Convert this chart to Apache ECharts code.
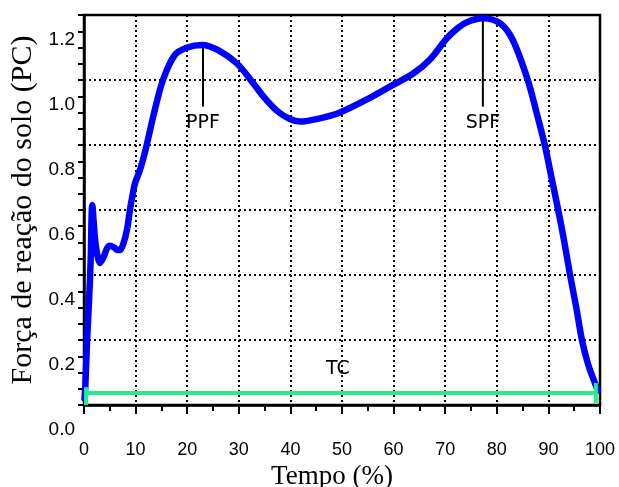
<!DOCTYPE html>
<html>
<head>
<meta charset="utf-8">
<script src="https://cdn.jsdelivr.net/npm/echarts@6/dist/echarts.min.js"></script>
<style>
html,body{margin:0;padding:0;background:#fff;}
#chart{width:619px;height:487px;}
</style>
</head>
<body>
<div id="chart"></div>
<script>
// Curve: Tempo (%) vs Força de reação do solo (PC)
const tempo = [0.1, 0.25, 0.6, 1.0, 1.3, 1.6, 2.1, 2.6, 3.1, 3.8, 4.4, 5.0, 5.8, 6.4, 7.0, 7.7, 8.4, 8.9, 9.4, 9.9, 10.85, 12.0, 13.6, 15.3, 17.6, 20.0, 22.9, 26.0, 29.7, 32.8, 35.0, 37.4, 39.9, 41.9, 45.7, 49.6, 55.4, 59.9, 63.8, 67.1, 70.3, 72.3, 74.2, 77.3, 80.6, 83.1, 86.0, 87.7, 89.3, 90.6, 91.9, 93.1, 94.2, 95.4, 96.5, 97.7, 99.0, 99.6];
const forca = [0.02, 0.055, 0.2, 0.33, 0.45, 0.615, 0.517, 0.46, 0.437, 0.455, 0.48, 0.49, 0.485, 0.478, 0.477, 0.50, 0.545, 0.60, 0.645, 0.683, 0.723, 0.79, 0.90, 1.0, 1.077, 1.10, 1.108, 1.092, 1.05, 0.99, 0.945, 0.905, 0.88, 0.872, 0.882, 0.90, 0.945, 0.985, 1.02, 1.064, 1.128, 1.158, 1.178, 1.19, 1.175, 1.123, 1.0, 0.9, 0.8, 0.7, 0.6, 0.5, 0.4, 0.3, 0.2, 0.125, 0.068, 0.045];

// TC (tempo de contato) bar
const tcX = [0.4, 99.2];
const tcY = 0.037;
const tcCapLeft = [0.0, 0.055];
const tcCapRight = [0.006, 0.068];

// Peak markers
const markerNames = ['PPF', 'SPF'];
const markerX = [23.06, 77.3];
const markerTop = [1.108, 1.19];
const markerBottom = [0.918, 0.918];
const labelY = [0.866, 0.869];
const tcLabel = {name: 'TC', x: 49.2, y: 0.11};

// Axis ticks
const xTicks = {min: 0, max: 100, interval: 10};
const yTicks = {min: 0, max: 1.2, interval: 0.2};

const curve = tempo.map((t, i) => [t, forca[i]]);

const series = [];
markerNames.forEach((n, i) => {
  series.push({
    type: 'line', name: n + '-line', silent: true, symbol: 'none', z: 2,
    data: [[markerX[i], markerTop[i]], [markerX[i], markerBottom[i]]],
    lineStyle: {color: '#000', width: 2}
  });
});
series.push({
  type: 'line', name: 'forca', data: curve, symbol: 'none', smooth: 0.3, z: 3,
  lineStyle: {color: '#0000FF', width: 6.5, cap: 'round', join: 'round'}
});
series.push({
  type: 'line', name: 'TC', symbol: 'none', z: 4,
  data: [[tcX[0], tcY], [tcX[1], tcY]],
  lineStyle: {color: '#22EE88', width: 4}
});
series.push({
  type: 'line', name: 'TC-cap-l', symbol: 'none', z: 4,
  data: [[tcX[0], tcCapLeft[0]], [tcX[0], tcCapLeft[1]]],
  lineStyle: {color: '#22EE88', width: 4}
});
series.push({
  type: 'line', name: 'TC-cap-r', symbol: 'none', z: 4,
  data: [[tcX[1], tcCapRight[0]], [tcX[1], tcCapRight[1]]],
  lineStyle: {color: '#22EE88', width: 4}
});
const labels = markerNames.map((n, i) => [markerX[i], labelY[i], n]);
labels.push([tcLabel.x, tcLabel.y, tcLabel.name]);
series.push({
  type: 'scatter', symbol: 'circle', symbolSize: 1, z: 6,
  itemStyle: {color: '#fff', opacity: 1},
  data: labels,
  label: {
    show: true, position: 'inside', formatter: p => p.data[2],
    fontFamily: 'DejaVu Sans', fontSize: 19, color: '#000',
    textBorderWidth: 0, opacity: 1
  }
});

const chart = echarts.init(document.getElementById('chart'), null, {renderer: 'canvas'});
chart.setOption({
  animation: false,
  backgroundColor: '#fff',
  grid: {left: 84, right: 19, top: 15, bottom: 82, show: true, borderColor: '#000', borderWidth: 2.5, backgroundColor: 'transparent', containLabel: false, outerBoundsMode: 'none'},
  xAxis: {
    type: 'value', min: xTicks.min, max: xTicks.max, interval: xTicks.interval,
    name: 'Tempo (%)', nameLocation: 'middle', nameGap: 55,
    nameTextStyle: {fontFamily: 'Liberation Serif', fontSize: 27, color: '#000', padding: [0, 20, 0, 0]},
    axisLine: {show: true, lineStyle: {color: '#000', width: 2.5}},
    axisTick: {show: true, length: 9, lineStyle: {color: '#000', width: 2}},
    minorTick: {show: true, splitNumber: 2, length: 6, lineStyle: {color: '#000', width: 2}},
    axisLabel: {margin: 36, fontFamily: 'Liberation Sans', fontSize: 18, color: '#000'},
    splitLine: {show: true, lineStyle: {color: '#000', width: 2, type: [2, 3]}}
  },
  yAxis: {
    type: 'value', min: yTicks.min, max: yTicks.max, interval: yTicks.interval,
    name: 'Força de reação do solo (PC)', nameLocation: 'middle', nameGap: 46, nameRotate: 90,
    nameTextStyle: {fontFamily: 'Liberation Serif', fontSize: 30, color: '#000'},
    axisLine: {show: true, lineStyle: {color: '#000', width: 2.5}},
    axisTick: {show: true, length: 6, lineStyle: {color: '#000', width: 2}},
    minorTick: {show: true, splitNumber: 4, length: 6, lineStyle: {color: '#000', width: 2}},
    axisLabel: {
      margin: 9, color: '#000',
      formatter: v => '{a|' + v.toFixed(1) + '}',
      rich: {a: {fontFamily: 'Liberation Sans', fontSize: 19, color: '#000', padding: [50, 0, 0, 0]}}
    },
    splitLine: {show: true, lineStyle: {color: '#000', width: 2, type: [2, 3]}}
  },
  series: series
});
</script>
</body>
</html>
